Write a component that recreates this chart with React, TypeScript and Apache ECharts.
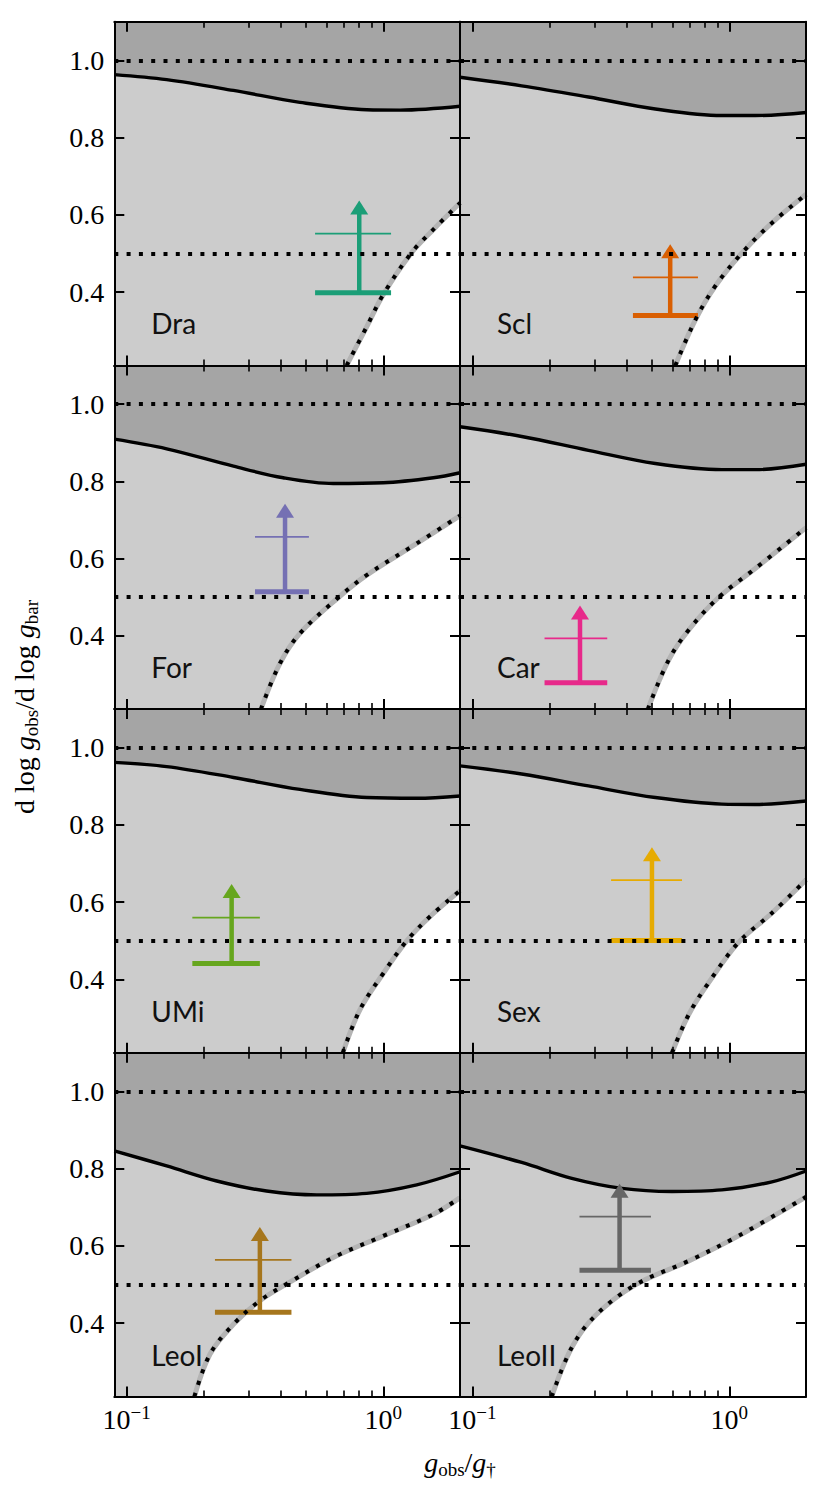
import React, { useEffect, useRef } from "react";
import * as echarts from "echarts";

// ---------------- data (x = log10(g_obs/g†), y = d log g_obs / d log g_bar) ----------------
const GALAXIES = ["Dra", "Scl", "For", "Car", "UMi", "Sex", "LeoI", "LeoII"];
const COLORS = ["#1b9e77", "#d95f02", "#7570b3", "#e7298a", "#66a61e", "#e6ab02", "#a6761d", "#666666"];

const DRA_UPPER = [[-1.048, 0.963], [-0.844, 0.95], [-0.584, 0.922], [-0.325, 0.891], [-0.065, 0.872], [0.065, 0.871], [0.299, 0.881]];
const SCL_UPPER = [[-1.048, 0.956], [-0.808, 0.934], [-0.548, 0.905], [-0.288, 0.874], [-0.029, 0.857], [0.101, 0.857], [0.299, 0.865]];
const FOR_UPPER = [[-1.048, 0.909], [-0.844, 0.884], [-0.584, 0.839], [-0.39, 0.809], [-0.195, 0.794], [0.0, 0.796], [0.195, 0.809], [0.299, 0.822]];
const CAR_UPPER = [[-1.048, 0.941], [-0.808, 0.916], [-0.548, 0.88], [-0.288, 0.846], [-0.029, 0.83], [0.101, 0.83], [0.299, 0.844]];
const UMI_UPPER = [[-1.048, 0.962], [-0.844, 0.951], [-0.584, 0.923], [-0.325, 0.892], [-0.065, 0.871], [0.13, 0.869], [0.299, 0.875]];
const SEX_UPPER = [[-1.048, 0.953], [-0.808, 0.932], [-0.548, 0.901], [-0.288, 0.871], [-0.029, 0.854], [0.101, 0.853], [0.299, 0.862]];
const LEOI_UPPER = [[-1.048, 0.846], [-0.844, 0.807], [-0.649, 0.768], [-0.455, 0.742], [-0.26, 0.732], [-0.065, 0.736], [0.13, 0.758], [0.299, 0.792]];
const LEOII_UPPER = [[-1.048, 0.859], [-0.808, 0.816], [-0.613, 0.775], [-0.418, 0.749], [-0.223, 0.741], [-0.029, 0.745], [0.166, 0.766], [0.299, 0.794]];

const DRA_LOWER = [[-0.143, 0.21], [-0.065, 0.31], [0.0, 0.394], [0.11, 0.502], [0.195, 0.562], [0.299, 0.631]];
const SCL_LOWER = [[-0.21, 0.21], [-0.132, 0.328], [-0.055, 0.415], [0.049, 0.501], [0.166, 0.579], [0.299, 0.653]];
const FOR_LOWER = [[-0.477, 0.21], [-0.403, 0.328], [-0.325, 0.406], [-0.175, 0.499], [-0.065, 0.557], [0.13, 0.639], [0.299, 0.711]];
const CAR_LOWER = [[-0.317, 0.21], [-0.236, 0.337], [-0.158, 0.415], [-0.042, 0.499], [0.101, 0.574], [0.299, 0.68]];
const UMI_LOWER = [[-0.158, 0.21], [-0.091, 0.322], [0.0, 0.416], [0.091, 0.5], [0.182, 0.563], [0.299, 0.63]];
const SEX_LOWER = [[-0.223, 0.21], [-0.158, 0.309], [-0.081, 0.391], [0.036, 0.496], [0.166, 0.572], [0.299, 0.658]];
const LEOI_LOWER = [[-0.736, 0.21], [-0.675, 0.32], [-0.584, 0.397], [-0.481, 0.458], [-0.37, 0.504], [-0.195, 0.57], [0.0, 0.626], [0.195, 0.682], [0.299, 0.725]];
const LEOII_LOWER = [[-0.691, 0.21], [-0.613, 0.337], [-0.522, 0.419], [-0.366, 0.499], [-0.158, 0.561], [0.036, 0.626], [0.299, 0.727]];

const UPPER = [DRA_UPPER, SCL_UPPER, FOR_UPPER, CAR_UPPER, UMI_UPPER, SEX_UPPER, LEOI_UPPER, LEOII_UPPER];
const LOWER = [DRA_LOWER, SCL_LOWER, FOR_LOWER, CAR_LOWER, UMI_LOWER, SEX_LOWER, LEOI_LOWER, LEOII_LOWER];

// lower-limit arrows
const ARROW_X = [-0.094, -0.23, -0.383, -0.581, -0.591, -0.301, -0.481, -0.427];
const ARROW_XLO = [-0.266, -0.375, -0.5, -0.719, -0.744, -0.46, -0.656, -0.583];
const ARROW_XHI = [0.03, -0.122, -0.29, -0.475, -0.481, -0.184, -0.358, -0.305];
const ARROW_YLOW = [0.398, 0.339, 0.514, 0.278, 0.441, 0.501, 0.428, 0.537];
const ARROW_YMID = [0.551, 0.438, 0.656, 0.393, 0.56, 0.657, 0.564, 0.676];
const ARROW_YTIP = [0.637, 0.524, 0.742, 0.478, 0.647, 0.742, 0.649, 0.761];

const REF_LEVELS = [1.0, 0.5];
const Y_TICKS = [0.4, 0.6, 0.8, 1.0];
const X_MAJOR = [-1, 0];
const X_MINOR_VALUES = [0.2, 0.3, 0.4, 0.5, 0.6, 0.7, 0.8, 0.9];

const X_MIN = -1.048;
const X_MAX = 0.2985;
const Y_MIN = 0.21;
const Y_MAX = 1.1;

// ---------------- layout / style ----------------
const W = 829;
const H = 1488;
const PANEL_LEFT = [114.3, 460];
const PANEL_W = [345.7, 346];
const PANEL_TOP0 = 21.7;
const PANEL_H = 343.7;
const SERIF = "Liberation Serif";
const SANS = "Lato";
const DARK = "#a5a5a5";
const LIGHT = "#cccccc";
const DOT = [4, 8.3];
const SMOOTH = 0.35;

function buildOption() {
  const grid: any[] = [];
  const xAxis: any[] = [];
  const yAxis: any[] = [];
  const series: any[] = [];
  const graphic: any[] = [];
  const xMinor = X_MINOR_VALUES.map((v) => Math.log10(v));

  const xLabelRich = {
    b: { fontFamily: SERIF, fontSize: 28, lineHeight: 34, color: "#000" },
    s: { fontFamily: SERIF, fontSize: 19, lineHeight: 19, verticalAlign: "top", color: "#000" },
  };

  GALAXIES.forEach((name, p) => {
    const row = Math.floor(p / 2);
    const col = p % 2;
    const left = PANEL_LEFT[col];
    const top = PANEL_TOP0 + row * PANEL_H;
    const width = PANEL_W[col];
    grid.push({
      left,
      top,
      width,
      height: PANEL_H,
      show: true,
      backgroundColor: LIGHT,
      borderWidth: 0,
      containLabel: false,
    });

    const baseX = {
      type: "value",
      gridIndex: p,
      min: X_MIN,
      max: X_MAX,
      z: 10,
      splitLine: { show: false },
      axisLabel: { show: false },
    };
    const frameLine = { show: true, onZero: false, lineStyle: { color: "#000", width: 2 } };
    const noLine = { show: false, onZero: false };
    const isBottom = row === 3;
    xAxis.push({
      ...baseX,
      position: "bottom",
      axisLine: frameLine,
      axisTick: { show: true, inside: true, length: 10, customValues: X_MAJOR, lineStyle: { color: "#000", width: 2 } },
      axisLabel: isBottom
        ? {
            show: true,
            customValues: X_MAJOR,
            margin: 6,
            fontFamily: SERIF,
            formatter: (v: number) => {
              const e = Math.round(v);
              return `{b|10}{s|${e < 0 ? "\u2212" + -e : e}}`;
            },
            rich: xLabelRich,
          }
        : { show: false },
    });
    xAxis.push({
      ...baseX,
      position: "bottom",
      axisLine: noLine,
      axisTick: { show: true, inside: true, length: 6, customValues: xMinor, lineStyle: { color: "#000", width: 1.6 } },
    });
    xAxis.push({
      ...baseX,
      position: "top",
      axisLine: frameLine,
      axisTick: { show: true, inside: true, length: 10, customValues: X_MAJOR, lineStyle: { color: "#000", width: 2 } },
    });
    xAxis.push({
      ...baseX,
      position: "top",
      axisLine: noLine,
      axisTick: { show: true, inside: true, length: 6, customValues: xMinor, lineStyle: { color: "#000", width: 1.6 } },
    });

    const baseY = {
      type: "value",
      gridIndex: p,
      min: Y_MIN,
      max: Y_MAX,
      z: 10,
      splitLine: { show: false },
      axisLine: frameLine,
      axisTick: { show: true, inside: true, length: 10, customValues: Y_TICKS, lineStyle: { color: "#000", width: 2 } },
    };
    yAxis.push({
      ...baseY,
      position: "left",
      axisLabel:
        col === 0
          ? {
              show: true,
              customValues: Y_TICKS,
              margin: 10,
              fontFamily: SERIF,
              fontSize: 28,
              color: "#000",
              formatter: (v: number) => `{t|${v.toFixed(1)}}`,
              rich: { t: { fontFamily: SERIF, fontSize: 28, color: "#000" } },
            }
          : { show: false },
    });
    yAxis.push({ ...baseY, position: "right", axisLabel: { show: false } });

    const xi = p * 4;
    const yi = p * 2;
    const color = COLORS[p];

    // dark band above the solid curve
    series.push({
      type: "line",
      xAxisIndex: xi,
      yAxisIndex: yi,
      data: UPPER[p],
      smooth: SMOOTH,
      symbol: "none",
      z: 2,
      lineStyle: { color: "#000", width: 3.4 },
      areaStyle: { color: DARK, origin: "end", opacity: 1 },
    });
    // white region below the lower curve (grey edge)
    series.push({
      type: "line",
      xAxisIndex: xi,
      yAxisIndex: yi,
      data: LOWER[p],
      smooth: SMOOTH,
      symbol: "none",
      z: 2,
      lineStyle: { color: "#b4b4b4", width: 5 },
      areaStyle: { color: "#ffffff", origin: "start", opacity: 1 },
    });
    // reference levels
    series.push({
      type: "line",
      xAxisIndex: xi,
      yAxisIndex: yi,
      data: [],
      z: 3,
      markLine: {
        silent: true,
        symbol: "none",
        label: { show: false },
        lineStyle: { color: "#000", width: 4, type: DOT, cap: "butt" },
        data: REF_LEVELS.map((v) => ({ yAxis: v })),
      },
    });
    // arrow marker
    series.push({
      type: "custom",
      xAxisIndex: xi,
      yAxisIndex: yi,
      z: 4,
      encode: { x: [0, 1, 2], y: [3, 4, 5] },
      data: [[ARROW_X[p], ARROW_XLO[p], ARROW_XHI[p], ARROW_YLOW[p], ARROW_YMID[p], ARROW_YTIP[p]]],
      renderItem: (params: any, api: any) => {
        const xc = api.value(0);
        const xlo = api.value(1);
        const xhi = api.value(2);
        const yl = api.value(3);
        const ym = api.value(4);
        const yt = api.value(5);
        const a = api.coord([xlo, yl]);
        const b = api.coord([xhi, yl]);
        const c = api.coord([xlo, ym]);
        const d = api.coord([xhi, ym]);
        const base = api.coord([xc, yl]);
        const tip = api.coord([xc, yt]);
        const headH = 14;
        const headW = 18;
        return {
          type: "group",
          children: [
            { type: "line", shape: { x1: a[0], y1: a[1], x2: b[0], y2: b[1] }, style: { stroke: color, lineWidth: 5 } },
            { type: "line", shape: { x1: c[0], y1: c[1], x2: d[0], y2: d[1] }, style: { stroke: color, lineWidth: 1.8 } },
            {
              type: "line",
              shape: { x1: base[0], y1: base[1], x2: tip[0], y2: tip[1] + headH - 1 },
              style: { stroke: color, lineWidth: 4.5 },
            },
            {
              type: "polygon",
              shape: {
                points: [
                  [tip[0] - headW / 2, tip[1] + headH],
                  [tip[0] + headW / 2, tip[1] + headH],
                  [tip[0], tip[1]],
                ],
              },
              style: { fill: color },
            },
          ],
        };
      },
    });
    // dotted lower boundary
    series.push({
      type: "line",
      xAxisIndex: xi,
      yAxisIndex: yi,
      data: LOWER[p],
      smooth: SMOOTH,
      symbol: "none",
      z: 5,
      lineStyle: { color: "#000", width: 4, type: DOT, cap: "butt" },
    });

    graphic.push({
      type: "text",
      x: left + 37,
      y: top + PANEL_H - 28,
      z: 20,
      style: { text: name, font: `28px ${SANS}`, fill: "#111", align: "left", verticalAlign: "bottom" },
    });
  });

  const mathRich = {
    r: { fontFamily: SERIF, fontSize: 28, lineHeight: 34, color: "#000" },
    i: { fontFamily: SERIF, fontStyle: "italic", fontSize: 28, lineHeight: 34, color: "#000" },
    sub: { fontFamily: SERIF, fontSize: 19, lineHeight: 19, verticalAlign: "bottom", color: "#000" },
  };

  graphic.push({
    type: "text",
    x: 460,
    y: 1462,
    z: 20,
    style: {
      text: "{i|g}{sub|obs}{r|/}{i|g}{sub|\u2020}",
      rich: mathRich,
      align: "center",
      verticalAlign: "middle",
    },
  });
  graphic.push({
    type: "text",
    x: 24,
    y: 707,
    rotation: Math.PI / 2,
    z: 20,
    style: {
      text: "{r|d log }{i|g}{sub|obs}{r|/d log }{i|g}{sub|bar}",
      rich: mathRich,
      align: "center",
      verticalAlign: "middle",
    },
  });

  return {
    animation: false,
    backgroundColor: "#ffffff",
    textStyle: { fontFamily: SERIF },
    grid,
    xAxis,
    yAxis,
    series,
    graphic,
  };
}

export default function App() {
  const ref = useRef<HTMLDivElement>(null);
  useEffect(() => {
    if (!ref.current) return;
    const chart = echarts.init(ref.current, undefined, { renderer: "svg" });
    chart.setOption(buildOption() as any);
    return () => chart.dispose();
  }, []);
  return <div ref={ref} style={{ position: "absolute", left: 0, top: 0, width: W, height: H }} />;
}
